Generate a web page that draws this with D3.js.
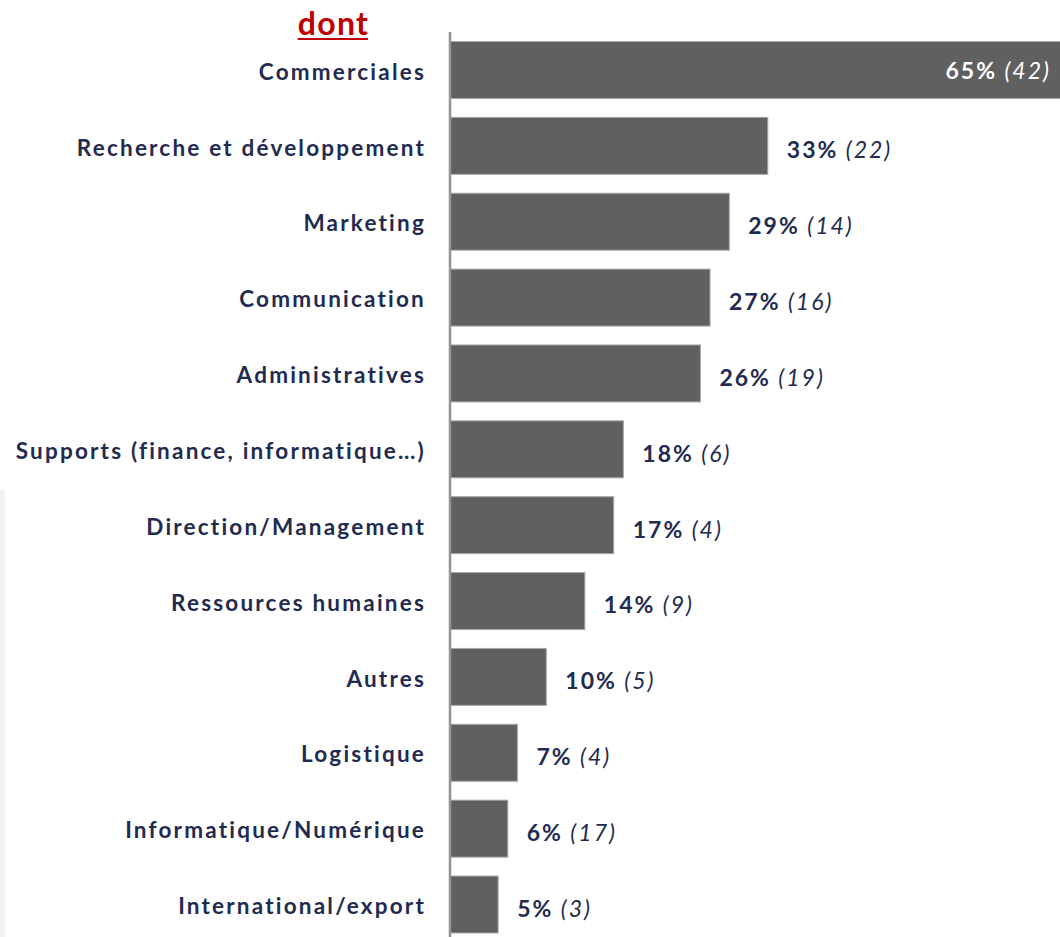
<!DOCTYPE html>
<html><head><meta charset="utf-8">
<script src="https://cdn.jsdelivr.net/npm/d3@7"></script>
<style>
html,body{margin:0;padding:0;background:#fff;}
svg{display:block;}
</style></head>
<body>
<svg id="chart" width="1060" height="937"></svg>
<script>
const title = "dont";
const categories = ["Commerciales","Recherche et développement","Marketing","Communication","Administratives","Supports (finance, informatique…)","Direction/Management","Ressources humaines","Autres","Logistique","Informatique/Numérique","International/export"];
const percents = [65,33,29,27,26,18,17,14,10,7,6,5];
const counts = [42,22,14,16,19,6,4,9,5,4,17,3];

const svg = d3.select("#chart");
const navy = "#222B4F";
const font = "Lato, 'Open Sans', sans-serif";

// faint edge strip on the left border of the source picture
svg.append("rect").attr("x",0).attr("y",490).attr("width",5).attr("height",447).attr("fill","#f2f2f2");

const x = d3.scaleLinear().domain([0,65]).range([450,1076]);
const y = d3.scaleBand().domain(categories).range([41.5,933]).paddingInner(0.249).paddingOuter(0);

// bars
svg.append("g").selectAll("rect").data(categories).join("rect")
  .attr("x", x(0))
  .attr("y", d => y(d))
  .attr("width", (d,i) => x(percents[i]) - x(0))
  .attr("height", y.bandwidth())
  .attr("fill", "#606060")
  .attr("stroke", "#a8a8a8")
  .attr("stroke-width", 1);

// axis line + category labels
const yAxis = d3.axisLeft(y).tickSize(0).tickPadding(24);
const ag = svg.append("g").attr("transform", `translate(${x(0)},0)`).call(yAxis);
ag.select(".domain").attr("d", `M0,32V937`).attr("stroke","#939393").attr("stroke-width",2.5);
ag.selectAll(".tick text")
  .attr("font-family", font).attr("font-weight", 700).attr("font-size", 22.5)
  .attr("letter-spacing", "2.2px")
  .attr("fill", navy).attr("dy", "0.43em");

// value labels
svg.append("g").selectAll("text").data(categories).join("text")
  .attr("font-family", font).attr("font-size", 23)
  .attr("letter-spacing", "2px")
  .attr("y", d => y(d) + y.bandwidth()/2)
  .each(function(d,i){
    const t = d3.select(this);
    const inside = i === 0;
    t.attr("fill", inside ? "#ffffff" : navy)
     .attr("text-anchor", inside ? "end" : "start")
     .attr("x", inside ? 1051 : x(percents[i]) + 19)
     .attr("dy", inside ? "0.4em" : "0.54em");
    t.append("tspan").attr("font-weight",700).text(percents[i] + "%");
    t.append("tspan").attr("font-style","italic").text(" (" + counts[i] + ")");
  });

// title
const tt = svg.append("text").attr("x", 333.5).attr("y", 35)
  .attr("text-anchor","middle").attr("font-family", font).attr("font-weight",700)
  .attr("letter-spacing","1.3px")
  .attr("font-size", 32).attr("fill","#C00000").text(title);
const bb = tt.node().getBBox();
svg.append("line").attr("x1", bb.x).attr("x2", bb.x+bb.width-1.3).attr("y1",39).attr("y2",39)
  .attr("stroke","#C00000").attr("stroke-width",2.2);
</script>
</body></html>
